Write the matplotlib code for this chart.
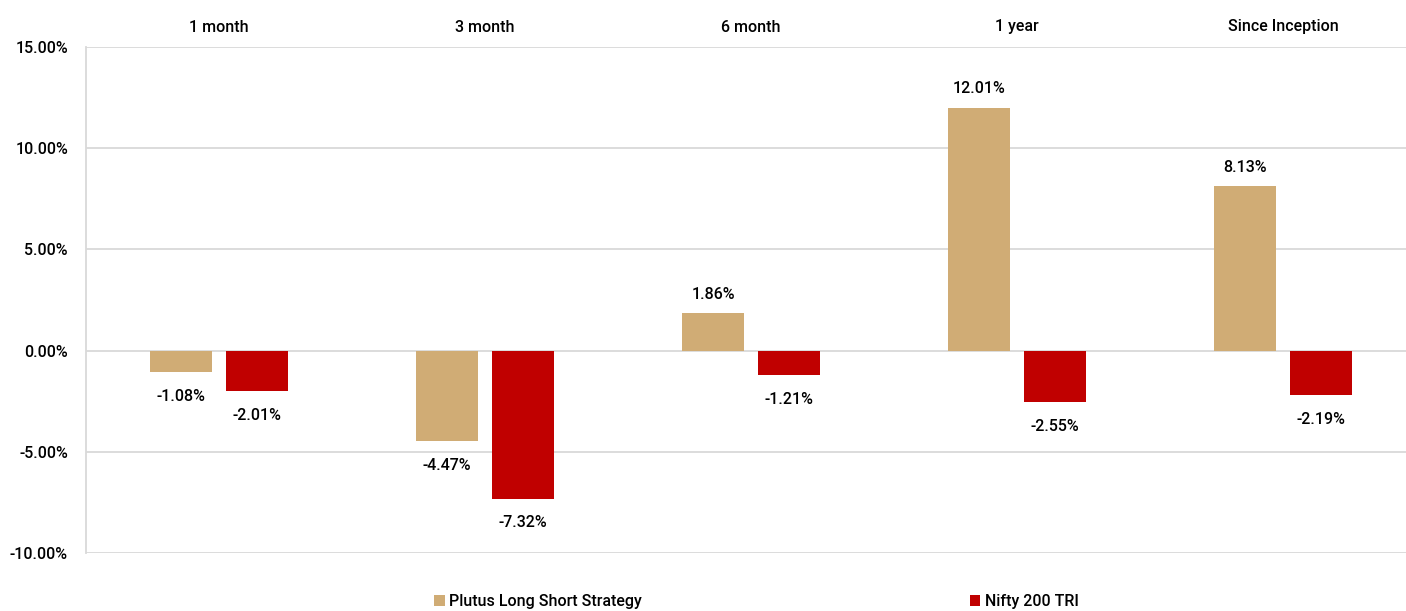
import numpy as np
import matplotlib.pyplot as plt
from matplotlib.ticker import FuncFormatter

periods = ['1 month', '3 month', '6 month', '1 year', 'Since Inception']
plutus = [-1.08, -4.47, 1.86, 12.01, 8.13]
nifty = [-2.01, -7.32, -1.21, -2.55, -2.19]
series_names = ['Plutus Long Short Strategy', 'Nifty 200 TRI']

tan = '#D0AC75'
red = '#C00000'
grid_color = '#D9D9D9'

plt.rcParams['font.family'] = ['Roboto', 'DejaVu Sans']
plt.rcParams['font.weight'] = 'medium'
fs = 11.5

fig = plt.figure(figsize=(14.06, 6.11), dpi=100)
W, H = 1406, 611
# axes spans 86..1416 px horizontally (runs past right edge), 47..553 vertically
ax = fig.add_axes([86 / W, (H - 553) / H, 1330 / W, 506 / H])

x = np.arange(len(periods))
bw = 0.233
off = 0.143
b1 = ax.bar(x - off, plutus, bw, color=tan, label=series_names[0], zorder=3)
b2 = ax.bar(x + off, nifty, bw, color=red, label=series_names[1], zorder=3)

ax.set_xlim(-0.5, len(periods) - 0.5)
ax.set_ylim(-10, 15)
ax.set_yticks([-10, -5, 0, 5, 10, 15])
ax.yaxis.set_major_formatter(FuncFormatter(lambda v, p: f'{v:.2f}%'))
ax.grid(axis='y', color=grid_color, linewidth=1.3, zorder=0)
for s in ['top', 'right', 'bottom']:
    ax.spines[s].set_visible(False)
ax.spines['left'].set_color(grid_color)
ax.spines['left'].set_linewidth(1.3)

ax.xaxis.tick_top()
ax.set_xticks(x)
ax.set_xticklabels(periods, fontsize=fs)
ax.tick_params(axis='x', length=0, pad=9)
ax.tick_params(axis='y', length=0, pad=13, labelsize=fs)

for bars, vals in [(b1, plutus), (b2, nifty)]:
    for rect, v in zip(bars, vals):
        cx = rect.get_x() + rect.get_width() / 2
        if v >= 0:
            ax.annotate(f'{v:.2f}%', (cx, v), xytext=(0, 8), textcoords='offset points',
                        ha='center', va='bottom', fontsize=fs)
        else:
            ax.annotate(f'{v:.2f}%', (cx, v), xytext=(0, -12), textcoords='offset points',
                        ha='center', va='top', fontsize=fs)

leg = fig.legend(handles=[b1, b2], labels=series_names, loc='lower center',
                 bbox_to_anchor=(0.538, -0.02), ncol=2, frameon=False, fontsize=fs,
                 handlelength=0.65, handleheight=0.65, handletextpad=0.3, columnspacing=20.5)

fig.savefig('out.png', dpi=100)
